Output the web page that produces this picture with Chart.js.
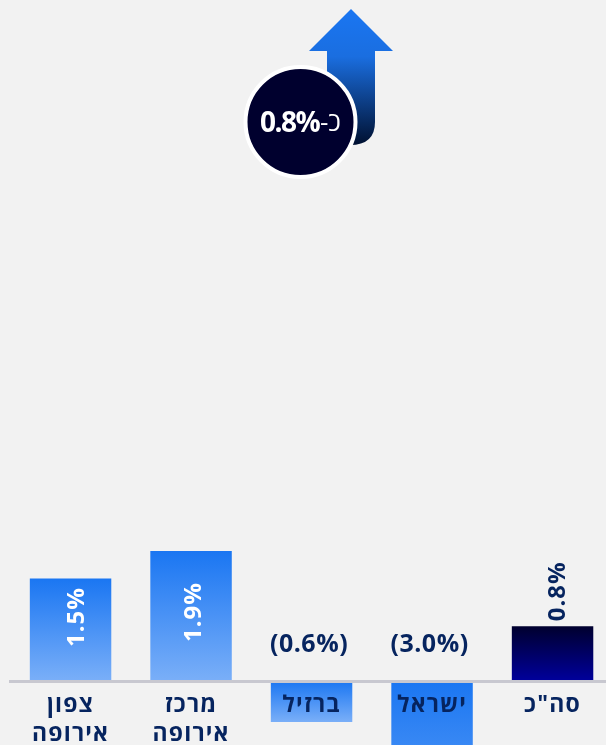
<!DOCTYPE html>
<html>
<head>
<meta charset="utf-8">
<style>
html,body{margin:0;padding:0;background:#f2f2f2;overflow:hidden;width:606px;height:745px;}
#wrap{position:relative;width:620px;height:900px;}
</style>
<script src="https://cdn.jsdelivr.net/npm/chart.js@4"></script>
</head>
<body>
<div id="wrap"><canvas id="c" width="620" height="900"></canvas></div>
<script>
'use strict';
var categories = [['צפון', 'אירופה'], ['מרכז', 'אירופה'], 'ברזיל', 'ישראל', 'סה"כ'];
var growth = [1.5, 1.9, -0.6, -3.0, 0.8];
var valueLabels = ['1.5%', '1.9%', '(0.6%)', '(3.0%)', '0.8%'];
var calloutValue = '0.8%';
var calloutPrefix = '-כ';

var NAVY = '#06245f';
var FONT = '"Open Sans", sans-serif';

function barFill(ctx) {
    var chart = ctx.chart;
    if (!chart.chartArea || ctx.dataIndex === undefined) return '#1a76f2';
    var y = chart.scales.y;
    var v = growth[ctx.dataIndex];
    var top = y.getPixelForValue(Math.max(v, 0));
    var bottom = y.getPixelForValue(Math.min(v, 0));
    var g = chart.ctx.createLinearGradient(0, top, 0, bottom);
    // total bar is dark, the regions are blue
    if (ctx.dataIndex === growth.length - 1) {
        g.addColorStop(0, '#00002e');
        g.addColorStop(1, '#00009c');
    } else {
        g.addColorStop(0, '#1a76f2');
        g.addColorStop(1, '#7aaff8');
    }
    return g;
}

// tick labels are spaced out a little in the original
var spacingPlugin = {
    id: 'spacing',
    beforeDraw: function(chart) {
        chart.ctx.letterSpacing = '1.2px';
    }
};

// value labels: rotated on positive bars, flat above the axis on negative ones
var valueLabelPlugin = {
    id: 'valueLabels',
    afterDatasetsDraw: function(chart) {
        var c = chart.ctx;
        var bars = chart.getDatasetMeta(0).data;
        var zero = chart.scales.y.getPixelForValue(0);
        bars.forEach(function(bar, i) {
            c.save();
            c.textBaseline = 'middle';
            if (growth[i] < 0) {
                c.font = '700 25px ' + FONT;
                c.letterSpacing = '0.5px';
                c.fillStyle = NAVY;
                c.textAlign = 'center';
                c.fillText(valueLabels[i], bar.x - 2.5, zero - 36);
            } else if (i === growth.length - 1) {
                c.font = '700 24px ' + FONT;
                c.letterSpacing = '1px';
                c.fillStyle = NAVY;
                c.translate(bar.x + 6, bar.y - 5);
                c.rotate(-Math.PI / 2);
                c.textAlign = 'left';
                c.fillText(valueLabels[i], 0, 0);
            } else {
                c.font = '700 24px ' + FONT;
                c.letterSpacing = '1px';
                c.fillStyle = '#ffffff';
                c.translate(bar.x + (i === 0 ? 7 : 3), i === 0 ? 617 : 612);
                c.rotate(-Math.PI / 2);
                c.textAlign = 'center';
                c.fillText(valueLabels[i], 0, 0);
            }
            c.restore();
        });
    }
};

// arrow and round badge above the bars
var calloutPlugin = {
    id: 'callout',
    afterDraw: function(chart) {
        var c = chart.ctx;
        c.save();
        var g = c.createLinearGradient(0, 9, 0, 145);
        g.addColorStop(0, '#1a76f2');
        g.addColorStop(0.35, '#1a6ee0');
        g.addColorStop(1, '#001030');
        c.fillStyle = g;
        c.beginPath();
        c.moveTo(351, 9);
        c.lineTo(393, 51);
        c.lineTo(375, 51);
        c.lineTo(375, 122);
        c.quadraticCurveTo(375, 145, 350, 145);
        c.lineTo(327, 145);
        c.lineTo(327, 51);
        c.lineTo(309, 51);
        c.closePath();
        c.fill();

        c.beginPath();
        c.arc(300.5, 122, 55, 0, Math.PI * 2);
        c.fillStyle = '#00002e';
        c.fill();
        c.lineWidth = 4;
        c.strokeStyle = '#ffffff';
        c.stroke();

        c.fillStyle = '#ffffff';
        c.textBaseline = 'middle';
        c.textAlign = 'left';
        c.font = '700 28px ' + FONT;
        c.letterSpacing = '-1.5px';
        c.fillText(calloutValue, 260, 124);
        c.font = '400 26px ' + FONT;
        c.letterSpacing = '0px';
        c.fillText(calloutPrefix, 320, 124);
        c.restore();
    }
};

new Chart(document.getElementById('c').getContext('2d'), {
    type: 'bar',
    data: {
        labels: categories,
        datasets: [{
            data: growth,
            backgroundColor: barFill,
            categoryPercentage: 0.676,
            barPercentage: 1,
            borderWidth: 0
        }]
    },
    options: {
        responsive: false,
        animation: false,
        layout: { padding: { left: 10.3, right: 7.2, top: 3.8, bottom: 0.1 } },
        plugins: { legend: { display: false }, tooltip: { enabled: false } },
        scales: {
            x: {
                position: { y: 0 },
                grid: { display: false, drawTicks: false },
                border: { display: true, color: '#c8c8d0', width: 3, z: 1 },
                ticks: {
                    z: 1,
                    color: NAVY,
                    padding: 10,
                    maxRotation: 0,
                    autoSkip: false,
                    font: { family: FONT, size: 23, weight: '700', lineHeight: 1.25 }
                }
            },
            y: { display: false, min: -3.2, max: 9.9 }
        }
    },
    plugins: [spacingPlugin, valueLabelPlugin, calloutPlugin]
});
</script>
</body>
</html>
